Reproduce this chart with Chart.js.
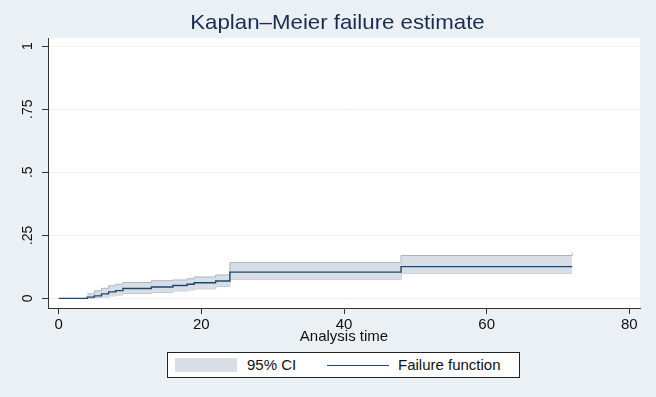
<!DOCTYPE html>
<html>
<head>
<meta charset="utf-8">
<script src="https://cdn.jsdelivr.net/npm/chart.js@4.4.0/dist/chart.umd.min.js"></script>
<style>
  body { margin: 0; background: #eaf0f3; }
  #wrap { position: relative; width: 656px; height: 397px; }
  #legend {
    position: absolute; left: 167px; top: 352px; width: 351px; height: 24px;
    border: 1px solid #222; background: #fff;
    font-family: "Liberation Sans", Arial, sans-serif; font-size: 15px; color: #111;
  }
  #legend .sw { position: absolute; left: 7px; top: 5px; width: 62px; height: 14px; background: #d9dee6; }
  #legend .ln { position: absolute; left: 159px; top: 12px; width: 62px; height: 1px; background: #1a476f; }
  #legend .t1 { position: absolute; left: 79px; top: 3px; }
  #legend .t2 { position: absolute; left: 230px; top: 3px; }
</style>
</head>
<body>
<div id="wrap">
  <canvas id="km" width="656" height="397"></canvas>
  <div id="legend">
    <span class="sw"></span><span class="t1">95% CI</span>
    <span class="ln"></span><span class="t2">Failure function</span>
  </div>
</div>
<script>
// 数据
const times = [0, 4, 5, 6, 7, 8, 9, 13, 16, 18, 19, 22, 24, 48, 72];
const failure = [0, 0.005, 0.01, 0.018, 0.026, 0.031, 0.039, 0.045, 0.051, 0.056, 0.062, 0.069, 0.104, 0.126, 0.126];
const ciTimes = [4, 5, 6, 7, 8, 9, 13, 16, 18, 19, 22, 24, 48, 72];
const ciLower = [0.001, 0.003, 0.006, 0.01, 0.014, 0.02, 0.024, 0.03, 0.034, 0.038, 0.047, 0.076, 0.1, 0.1];
const ciUpper = [0.018, 0.03, 0.04, 0.05, 0.056, 0.063, 0.07, 0.073, 0.078, 0.085, 0.093, 0.142, 0.17, 0.18];
const xTicks = [0, 20, 40, 60, 80];
const yTicks = [0, 0.25, 0.5, 0.75, 1];
const yTickLabels = ['0', '.25', '.5', '.75', '1'];
const titleText = 'Kaplan\u2013Meier failure estimate';

const font = 'Liberation Sans, Arial, sans-serif';

// 背景
const bgPlugin = {
    id: 'bg',
    beforeDraw(chart) {
        const { ctx, chartArea: a } = chart;
        ctx.save();
        ctx.fillStyle = '#eaf0f3';
        ctx.fillRect(0, 0, chart.width, chart.height);
        ctx.fillStyle = '#ffffff';
        ctx.fillRect(a.left, a.top, a.right - a.left, a.bottom - a.top);
        ctx.restore();
    }
};

// 标题 (稍微拉宽, 跟原图一样)
const titlePlugin = {
    id: 'stataTitle',
    afterDraw(chart) {
        const ctx = chart.ctx;
        ctx.save();
        ctx.translate(337.5, 23);
        ctx.scale(1.06, 1);
        ctx.font = '21px ' + font;
        ctx.fillStyle = '#1c2b50';
        ctx.textAlign = 'center';
        ctx.textBaseline = 'middle';
        ctx.fillText(titleText, 0, 0);
        ctx.restore();
    }
};

const pts = (xs, ys) => xs.map((x, i) => ({ x: x, y: ys[i] }));

new Chart(document.getElementById('km'), {
    type: 'line',
    data: {
        datasets: [{
            label: 'Failure function',
            data: pts(times, failure),
            borderColor: '#1a476f',
            borderWidth: 1.4,
            stepped: true,
            pointRadius: 0,
            fill: false
        }, {
            label: '95% CI',
            data: pts(ciTimes, ciUpper),
            borderColor: '#aab6c5',
            borderWidth: 1,
            backgroundColor: '#d9dee6',
            stepped: true,
            pointRadius: 0,
            fill: '+1'
        }, {
            label: 'lower',
            data: pts(ciTimes, ciLower),
            borderColor: '#aab6c5',
            borderWidth: 1,
            stepped: true,
            pointRadius: 0,
            fill: false
        }]
    },
    options: {
        responsive: false,
        animation: false,
        layout: { padding: { left: 0, right: 16, top: 38, bottom: 49 } },
        plugins: {
            legend: { display: false },
            tooltip: { enabled: false },
            title: { display: false }
        },
        scales: {
            x: {
                type: 'linear',
                min: -1.5,
                max: 81.5,
                afterBuildTicks: s => { s.ticks = xTicks.map(v => ({ value: v })); },
                afterFit: s => { s.height = 40; },
                grid: { drawOnChartArea: false, tickLength: 6, tickColor: '#333' },
                border: { color: '#333', width: 1 },
                ticks: { color: '#111', padding: 2, maxRotation: 0, font: { family: font, size: 15 } },
                title: {
                    display: true,
                    text: 'Analysis time',
                    color: '#111',
                    padding: { top: 0, bottom: 2 },
                    font: { family: font, size: 15 }
                }
            },
            y: {
                min: -0.038,
                max: 1.032,
                afterBuildTicks: s => { s.ticks = yTicks.map(v => ({ value: v })); },
                afterFit: s => { s.width = 48; },
                grid: { color: '#eef2f4', tickLength: 6, tickColor: '#333' },
                border: { color: '#333', width: 1 },
                ticks: {
                    color: '#111',
                    minRotation: 90,
                    maxRotation: 90,
                    crossAlign: 'center',
                    padding: 4,
                    font: { family: font, size: 14 },
                    callback: (v, i) => yTickLabels[i]
                }
            }
        }
    },
    plugins: [bgPlugin, titlePlugin]
});
</script>
</body>
</html>
